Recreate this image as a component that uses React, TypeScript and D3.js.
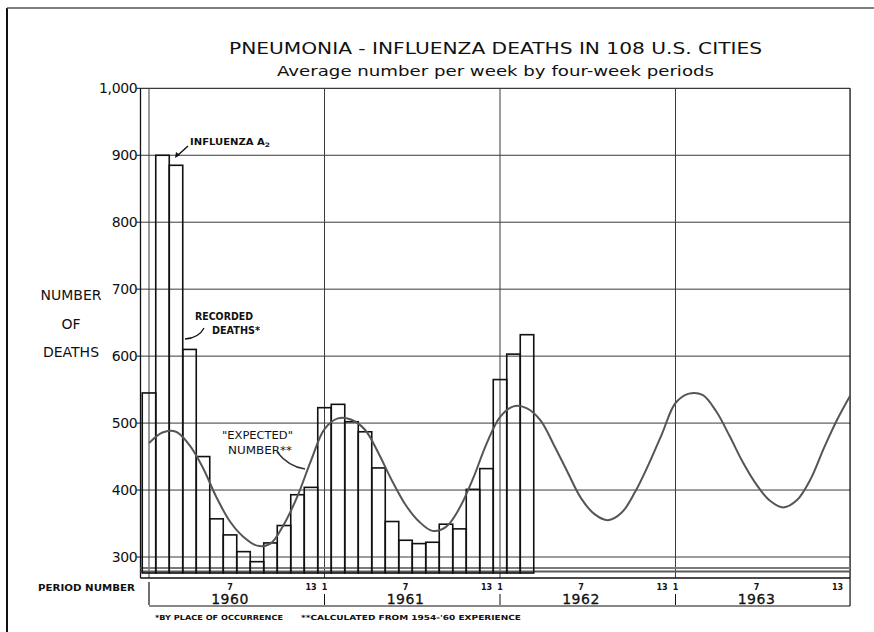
import React from "react";
import * as d3 from "d3";

// ---- data ----
const years = ["1960", "1961", "1962", "1963"];
const periodsPerYear = 13;
const recorded1960 = [545, 900, 885, 610, 450, 357, 333, 308, 293, 321, 347, 393, 404];
const recorded1961 = [523, 528, 502, 487, 433, 353, 325, 320, 322, 349, 342, 401, 432];
const recorded1962 = [565, 603, 632];
const expected = [
  470, 486, 487, 467, 433, 389, 353, 330, 317, 320, 349, 391, 444,
  491, 507, 505, 490, 455, 414, 378, 353, 339, 345, 373, 417, 469,
  509, 525, 522, 504, 467, 427, 388, 364, 355, 366, 397, 438, 484,
  530, 544, 542, 518, 481, 441, 408, 384, 374, 385, 416, 463, 506, 543,
];
const yTicks = [300, 400, 500, 600, 700, 800, 900, 1000];
const periodLabels = [
  { p: 7, label: "7" },
  { p: 13, label: "13" },
];

const FONT = "'DejaVu Sans', 'Liberation Sans', sans-serif";

export default function App() {
  const recorded = [...recorded1960, ...recorded1961, ...recorded1962];
  const x = d3.scaleLinear().domain([0, 39]).range([149, 675.5]);
  const y = d3.scaleLinear().domain([300, 1000]).range([557, 88.3]);
  const step = x(1) - x(0);
  const left = x(-0.63);
  const right = x(51.93);
  const top = y(1000);
  const bottom = 578;
  const base = 573;

  const line = d3
    .line<number>()
    .x((_, i) => x(i))
    .y((d) => y(d))
    .curve(d3.curveCatmullRom.alpha(0.5));

  const yearStarts = years.map((_, k) => k * periodsPerYear);
  const gridColor = "#3a3a3a";

  return (
    <svg
      width={874}
      height={632}
      style={{ position: "absolute", left: 0, top: 0, background: "#fff" }}
      fontFamily={FONT}
    >
      <defs>
        <clipPath id="plotclip">
          <rect x={left} y={top} width={right - left} height={bottom - top} />
        </clipPath>
      </defs>
      <rect x={0} y={0} width={874} height={632} fill="#fff" />
      {/* outer frame */}
      <line x1={7} y1={8} x2={7} y2={632} stroke="#111" strokeWidth={2} />
      <line x1={7} y1={8} x2={874} y2={8} stroke="#555" strokeWidth={1.3} />

      {/* titles */}
      <text x={495.5} y={54} textAnchor="middle" fontSize={16} textLength={533} lengthAdjust="spacingAndGlyphs" fill="#111">
        PNEUMONIA - INFLUENZA DEATHS IN 108 U.S. CITIES
      </text>
      <text x={495.5} y={76} textAnchor="middle" fontSize={14} textLength={437} lengthAdjust="spacingAndGlyphs" fill="#111">
        Average number per week by four-week periods
      </text>

      {/* horizontal grid */}
      {yTicks.map((t) => (
        <g key={t}>
          <line x1={left} x2={right} y1={y(t)} y2={y(t)} stroke={gridColor} strokeWidth={t === 1000 ? 1.3 : 1} />
          <line x1={left - 4} x2={left} y1={y(t)} y2={y(t)} stroke="#111" strokeWidth={1} />
          <text x={left - 3} y={y(t) + 5} textAnchor="end" fontSize={14} fill="#111" letterSpacing={-0.3}>
            {t === 1000 ? "1,000" : String(t)}
          </text>
        </g>
      ))}
      {/* vertical grid */}
      {yearStarts.map((s) => (
        <line key={s} x1={x(s)} x2={x(s)} y1={top} y2={bottom} stroke={gridColor} strokeWidth={1} />
      ))}
      <line x1={left} x2={left} y1={top} y2={bottom} stroke="#111" strokeWidth={1.3} />
      <line x1={right} x2={right} y1={top} y2={bottom} stroke="#111" strokeWidth={1.3} />

      {/* bottom band */}
      <line x1={left} x2={right} y1={568} y2={568} stroke="#7a7a7a" strokeWidth={2} />
      <line x1={left} x2={right} y1={571.5} y2={571.5} stroke="#5a5a5a" strokeWidth={2.2} />
      <line x1={left} x2={right} y1={bottom} y2={bottom} stroke="#111" strokeWidth={1.3} />

      {/* recorded bars */}
      {recorded.map((v, i) => (
        <rect
          key={i}
          x={x(i) - step / 2}
          y={y(v)}
          width={step}
          height={base - y(v)}
          fill="none"
          stroke="#111"
          strokeWidth={1.6}
        />
      ))}

      {/* expected curve */}
      <path d={line(expected) || ""} fill="none" stroke="#555" strokeWidth={2} clipPath="url(#plotclip)" />

      {/* y axis title */}
      <g fontSize={14} fill="#111" textAnchor="middle">
        <text x={71} y={300}>NUMBER</text>
        <text x={71} y={329}>OF</text>
        <text x={71} y={357}>DEATHS</text>
      </g>

      {/* period row */}
      <text x={38} y={591} fontSize={8.5} fontWeight="bold" textLength={97} lengthAdjust="spacingAndGlyphs" fill="#111">
        PERIOD NUMBER
      </text>
      <line x1={x(0)} x2={x(0)} y1={582} y2={605} stroke="#111" strokeWidth={1.2} />
      <line x1={x(0)} x2={right} y1={606} y2={606} stroke="#111" strokeWidth={1.2} />
      <line x1={right} x2={right} y1={bottom} y2={606} stroke="#111" strokeWidth={1.2} />
      {yearStarts.slice(1).map((s) => (
        <g key={s}>
          <text x={x(s)} y={590} textAnchor="middle" fontSize={8} fontWeight="bold" fill="#111">1</text>
          <line x1={x(s)} x2={x(s)} y1={594} y2={605} stroke="#111" strokeWidth={1} />
        </g>
      ))}
      {yearStarts.map((s, k) => (
        <g key={"y" + s}>
          {periodLabels.map((pl) => (
            <text key={pl.p} x={x(s + pl.p - 1)} y={590} textAnchor="middle" fontSize={8} fontWeight="bold" fill="#111">
              {pl.label}
            </text>
          ))}
          <text x={x(s + 6)} y={604} textAnchor="middle" fontSize={14} letterSpacing={0.5} fill="#111" stroke="#111" strokeWidth={0.3}>
            {years[k]}
          </text>
        </g>
      ))}

      {/* annotations */}
      <text x={190} y={145} fontSize={8} fontWeight="bold" textLength={80} lengthAdjust="spacingAndGlyphs" fill="#111">
        INFLUENZA A<tspan fontSize={6} dy={2}>2</tspan>
      </text>
      <line x1={188} y1={146} x2={177} y2={156} stroke="#111" strokeWidth={1.4} />
      <path d="M175,158 L176,152 L180,155 Z" fill="#111" />

      <g fontSize={10} fontWeight="bold" fill="#111">
        <text x={195} y={320} textLength={58} lengthAdjust="spacingAndGlyphs">RECORDED</text>
        <text x={212} y={334} textLength={48} lengthAdjust="spacingAndGlyphs">DEATHS*</text>
      </g>
      <path d="M204,328 Q199,338 185,339" fill="none" stroke="#111" strokeWidth={1.3} />

      <g fontSize={11} fill="#111">
        <text x={222} y={439} textLength={71} lengthAdjust="spacingAndGlyphs">"EXPECTED"</text>
        <text x={228} y={454} textLength={64} lengthAdjust="spacingAndGlyphs">NUMBER**</text>
      </g>
      <path d="M277,452 Q289,467 305,469" fill="none" stroke="#333" strokeWidth={1.5} />

      {/* footnotes */}
      <g fontSize={7} fontWeight="bold" fill="#111">
        <text x={155} y={620} textLength={128} lengthAdjust="spacingAndGlyphs">*BY PLACE OF OCCURRENCE</text>
        <text x={301} y={620} textLength={220} lengthAdjust="spacingAndGlyphs">**CALCULATED FROM 1954-'60 EXPERIENCE</text>
      </g>
    </svg>
  );
}
